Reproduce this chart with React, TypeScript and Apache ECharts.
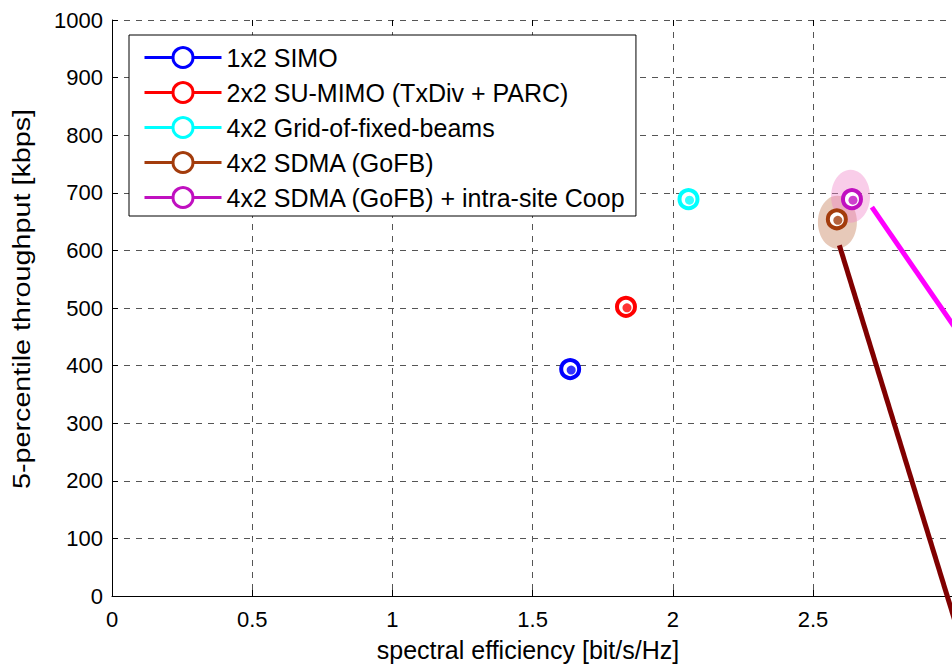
import React, { useEffect, useRef } from "react";
import * as echarts from "echarts";

const seriesNames = [
  "1x2 SIMO",
  "2x2 SU-MIMO (TxDiv + PARC)",
  "4x2 Grid-of-fixed-beams",
  "4x2 SDMA (GoFB)",
  "4x2 SDMA (GoFB) + intra-site Coop",
];
const seriesColors = ["#0000ff", "#ff0000", "#00ffff", "#a33c0c", "#c010c0"];
const spectralEff = [1.634, 1.833, 2.056, 2.585, 2.639];
const throughput = [394, 502, 689, 654, 689];

// shaded ellipses around the two SDMA points
const ellipseX = [2.587, 2.634];
const ellipseY = [649, 694];
const ellipseColors = ["rgba(195,120,80,0.5)", "rgba(240,130,200,0.5)"];

// annotation arrows (extend outside the axes)
const brownLineX = [2.594, 3.086];
const brownLineY = [609, -170];
const magentaLineX = [2.71, 3.176];
const magentaLineY = [675, 346];

const xMin = 0;
const xMax = 3.5;
const xStep = 0.5;
const yMin = 0;
const yMax = 1000;
const yStep = 100;

const xTitle = "spectral efficiency [bit/s/Hz]";
const yTitle = "5-percentile throughput [kbps]";

const FONT = "'Liberation Sans', Arial, Helvetica, sans-serif";

export default function App() {
  const ref = useRef<HTMLDivElement>(null);
  useEffect(() => {
    if (!ref.current) return;
    const chart = echarts.init(ref.current, undefined, { renderer: "svg" });
    const gridLine = { type: [6, 6] as any, color: "#555", width: 1 };
    const series: any[] = [];
    ellipseX.forEach((x, i) => {
      series.push({
        type: "scatter",
        name: "_ellipse" + i,
        data: [[x, ellipseY[i]]],
        symbol: "circle",
        symbolSize: [39, 53],
        itemStyle: { color: ellipseColors[i] },
        silent: true,
        z: 2,
      });
    });
    series.push({
      type: "line",
      name: "_arrowBrown",
      data: brownLineX.map((x, i) => [x, brownLineY[i]]),
      showSymbol: false,
      symbol: "none",
      clip: false,
      lineStyle: { color: "#800000", width: 5 },
      silent: true,
      z: 3,
    });
    series.push({
      type: "line",
      name: "_arrowMagenta",
      data: magentaLineX.map((x, i) => [x, magentaLineY[i]]),
      showSymbol: false,
      symbol: "none",
      clip: false,
      lineStyle: { color: "#ff00ff", width: 5 },
      silent: true,
      z: 3,
    });
    seriesNames.forEach((name, i) => {
      series.push({
        type: "line",
        name,
        data: [[spectralEff[i], throughput[i]]],
        symbol: "circle",
        symbolSize: 18,
        itemStyle: { color: "#fff", borderColor: seriesColors[i], borderWidth: 4 },
        lineStyle: { color: seriesColors[i], width: 3 },
        z: 4,
      });
      series.push({
        type: "scatter",
        name: "_dot" + i,
        data: [[spectralEff[i], throughput[i]]],
        symbol: "circle",
        symbolSize: 9,
        symbolOffset: [1, 1],
        itemStyle: { color: seriesColors[i] },
        z: 5,
      });
    });

    chart.setOption({
      animation: false,
      backgroundColor: "#fff",
      textStyle: { fontFamily: FONT },
      grid: { left: 112, top: 20, width: (xMax - xMin) * 280.4, height: 576 },
      legend: {
        data: seriesNames,
        orient: "vertical",
        left: 129,
        top: 35,
        itemWidth: 77,
        itemHeight: 25,
        itemGap: 10,
        padding: [10, 10, 6, 14],
        borderColor: "#000",
        borderWidth: 1,
        backgroundColor: "#fff",
        textStyle: { fontSize: 25, color: "#000", fontFamily: FONT },
        itemStyle: { borderWidth: 3 },
        lineStyle: { width: 3 },
        selectedMode: false,
        z: 10,
      },
      xAxis: [
        {
          type: "value",
          min: xMin,
          max: xMax,
          interval: xStep,
          axisLine: { show: true, lineStyle: { color: "#000", width: 1 } },
          axisTick: { show: true, inside: true, length: 6, lineStyle: { color: "#000" } },
          axisLabel: {
            fontSize: 22,
            color: "#000",
            margin: 12,
            fontFamily: FONT,
            formatter: (v: number) => (v >= 3 ? "" : String(v)),
          },
          splitLine: { show: true, lineStyle: gridLine },
        },
        {
          type: "value",
          position: "top",
          min: xMin,
          max: xMax,
          interval: xStep,
          axisLine: { show: false },
          axisTick: { show: true, inside: true, length: 6, lineStyle: { color: "#000" } },
          axisLabel: { show: false },
          splitLine: { show: false },
        },
      ],
      yAxis: [
        {
          type: "value",
          min: yMin,
          max: yMax,
          interval: yStep,
          axisLine: { show: true, lineStyle: { color: "#000", width: 1 } },
          axisTick: { show: true, inside: true, length: 6, lineStyle: { color: "#000" } },
          axisLabel: {
            fontSize: 22,
            color: "#000",
            margin: 9,
            fontFamily: FONT,
            formatter: (v: number) => String(v),
          },
          splitLine: { show: true, lineStyle: gridLine },
        },
      ],
      graphic: [
        {
          type: "text",
          x: 528,
          y: 650,
          style: {
            text: xTitle,
            fontSize: 25,
            fill: "#000",
            fontFamily: FONT,
            align: "center",
            verticalAlign: "middle",
          },
        },
        {
          type: "text",
          x: 22,
          y: 299,
          rotation: Math.PI / 2,
          scaleX: 1.25,
          style: {
            text: yTitle,
            fontSize: 23,
            fill: "#000",
            fontFamily: FONT,
            align: "center",
            verticalAlign: "middle",
          },
        },
      ],
      series,
    });
    return () => chart.dispose();
  }, []);
  return (
    <div
      style={{
        position: "fixed",
        left: 0,
        top: 0,
        width: 952,
        height: 664,
        overflow: "hidden",
        background: "#fff",
      }}
    >
      <div ref={ref} style={{ width: 1100, height: 664 }} />
    </div>
  );
}
